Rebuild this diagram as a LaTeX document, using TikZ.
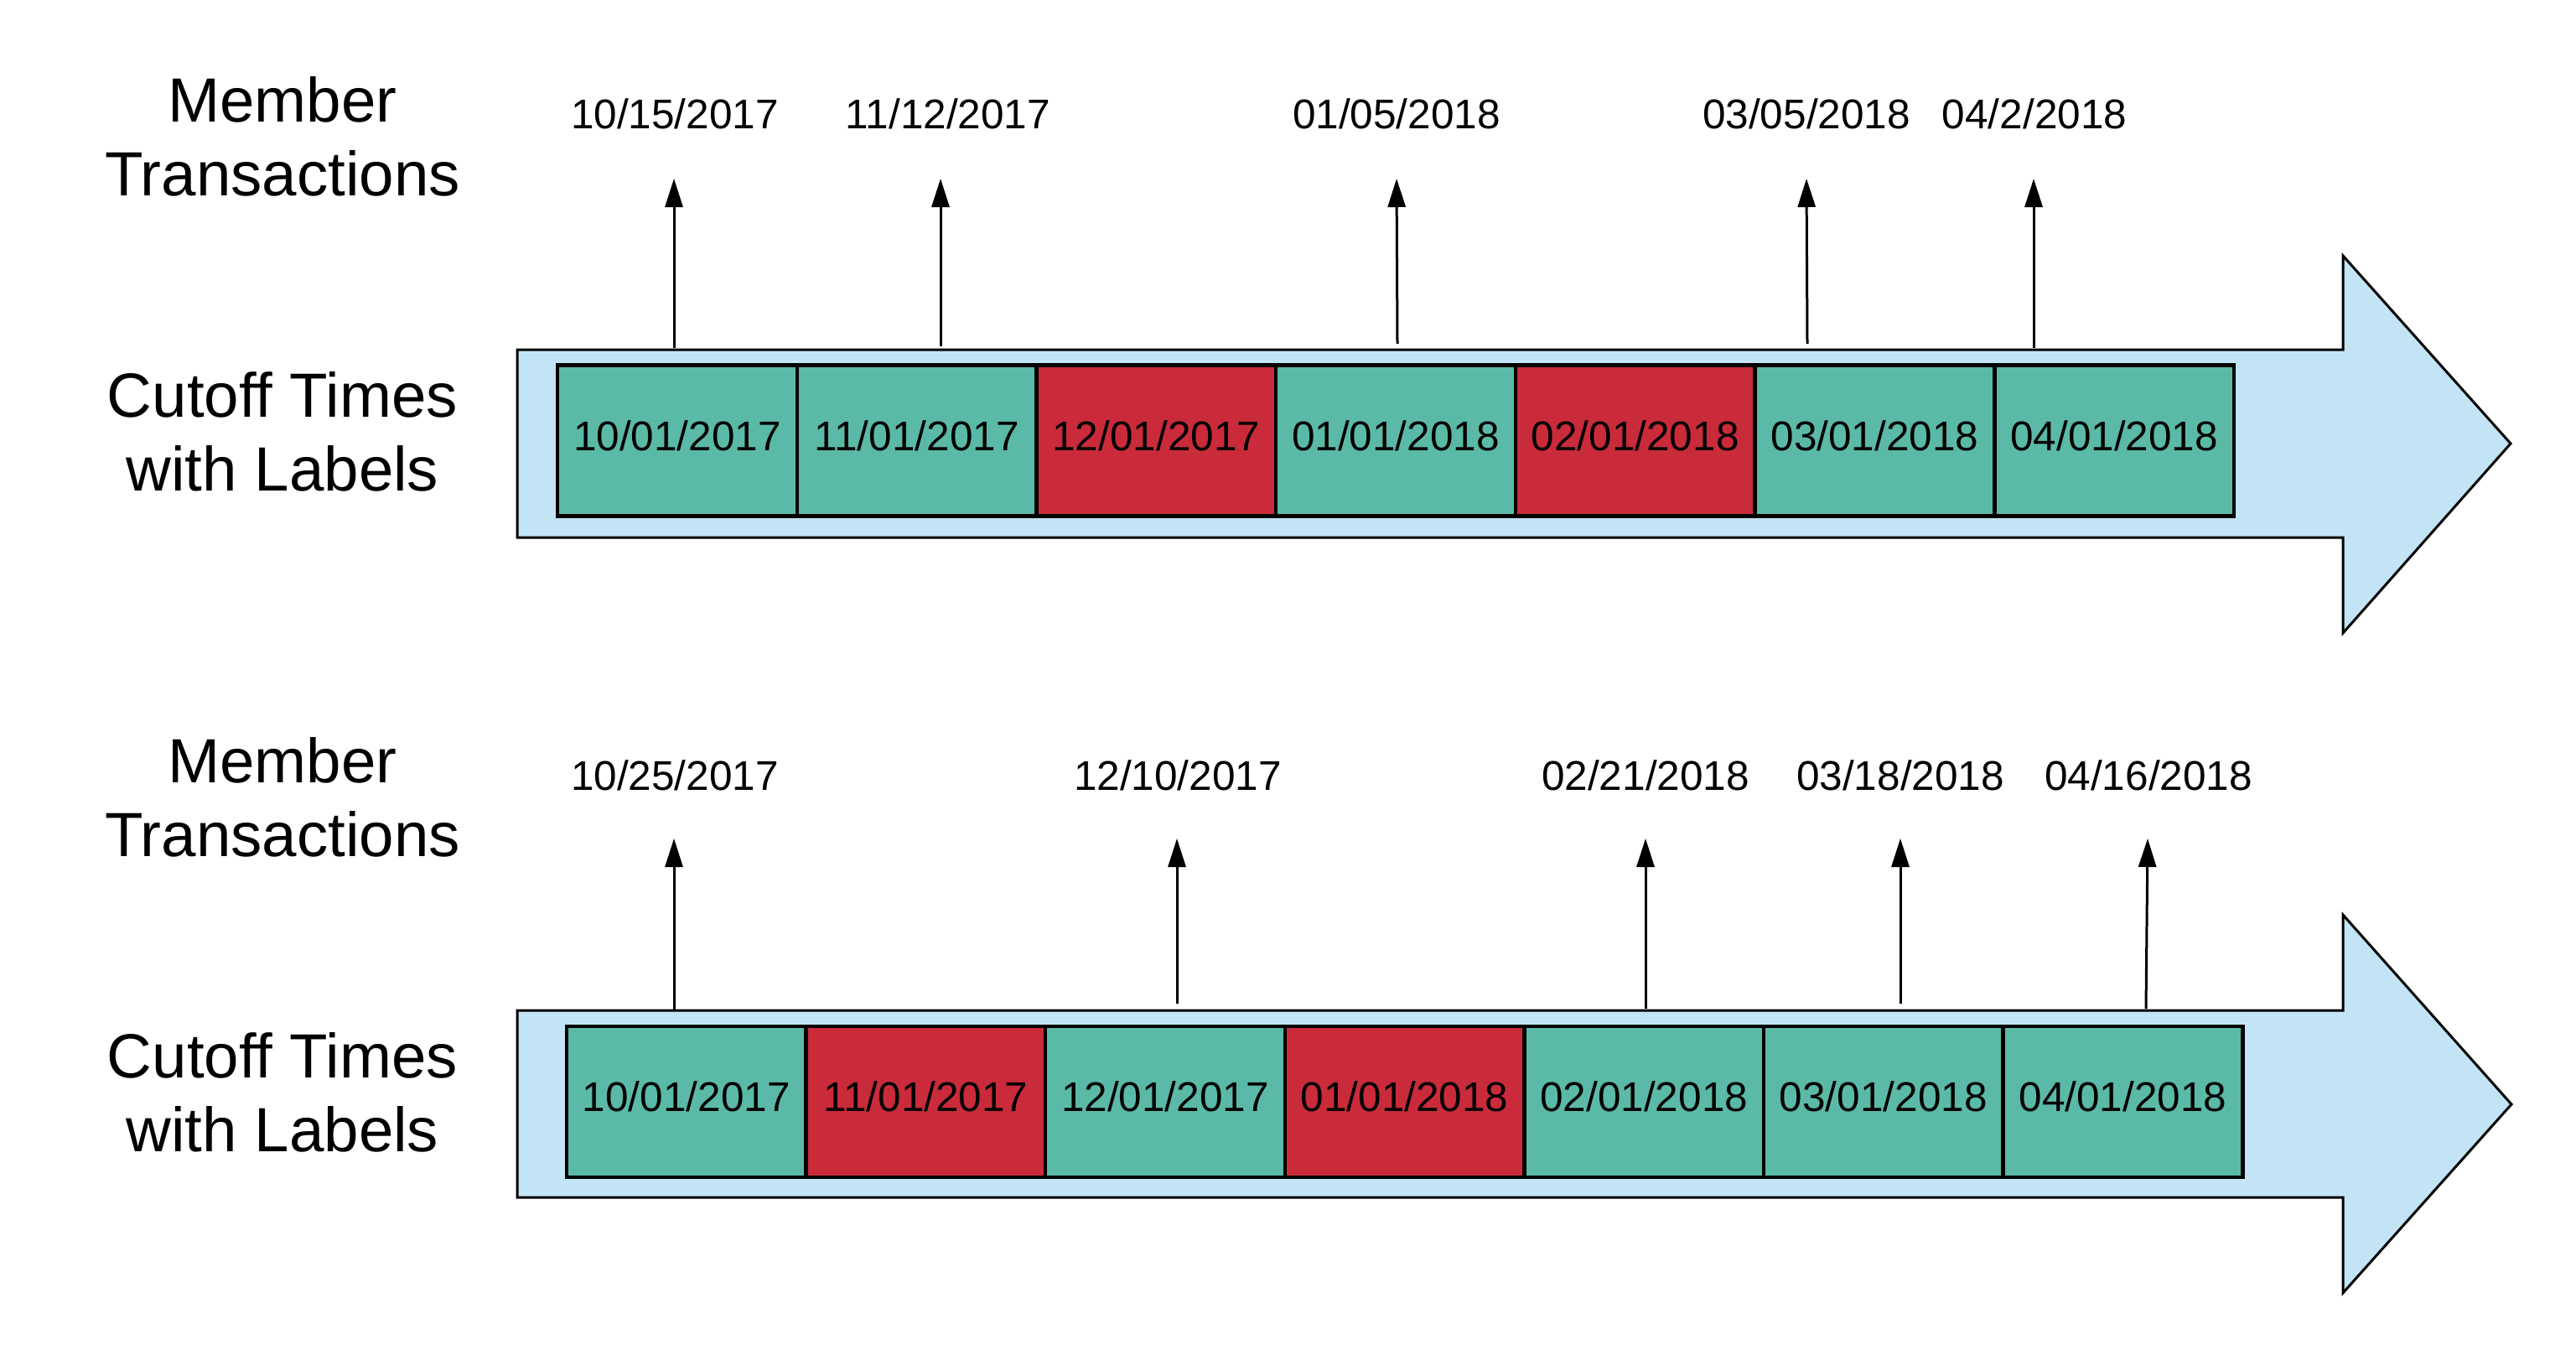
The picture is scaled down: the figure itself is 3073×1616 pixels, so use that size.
\documentclass[tikz,border=0pt]{standalone}
\usepackage{fontspec}
\setmainfont{Liberation Sans}
\usetikzlibrary{arrows.meta}
\definecolor{bodyblue}{RGB}{194,228,245}
\definecolor{cellteal}{RGB}{91,185,167}
\definecolor{cellred}{RGB}{201,43,58}
\begin{document}
\begin{tikzpicture}[x=1pt,y=-1pt,
  body/.style={fill=bodyblue, draw=black, line width=3pt, line join=miter},
  cell/.style={draw=black, line width=4.5pt, minimum width=285.7pt, minimum height=180pt, inner sep=0pt, text height=36pt, text depth=13pt, font=\fontsize{49.5}{59}\selectfont},
  ok/.style={cell, fill=cellteal},
  bad/.style={cell, fill=cellred},
  datelbl/.style={anchor=base, inner sep=0pt, font=\fontsize{49.5}{59}\selectfont},
  rowlbl/.style={align=center, inner sep=0pt, font=\fontsize{74.5}{88}\selectfont},
  txarrow/.style={draw=black, line width=3pt, -{Triangle[length=34pt,width=21pt]}}
]
\useasboundingbox (0,0) rectangle (3073,1616);
% row labels
\node[rowlbl] (mt1) at (337,163) {Member\\Transactions};
\node[rowlbl] (ct1) at (337,515) {Cutoff Times\\with Labels};
\node[rowlbl] (mt2) at (337,950.5) {Member\\Transactions};
\node[rowlbl] (ct2) at (337,1302.5) {Cutoff Times\\with Labels};
% arrow bodies
\draw[body] (617,417) -- (2795,417) -- (2795,305) -- (2995,529) -- (2795,755) -- (2795,641) -- (617,641) -- cycle;
\draw[body] (617,1205) -- (2795,1205) -- (2795,1091) -- (2996,1317) -- (2795,1542) -- (2795,1428) -- (617,1428) -- cycle;
% top cells
\node[ok]  (a1) at (807.9,525.5) {10/01/2017};
\node[ok]  (a2) at (1093.6,525.5) {11/01/2017};
\node[bad] (a3) at (1379.3,525.5) {12/01/2017};
\node[ok]  (a4) at (1665.0,525.5) {01/01/2018};
\node[bad] (a5) at (1950.7,525.5) {02/01/2018};
\node[ok]  (a6) at (2236.4,525.5) {03/01/2018};
\node[ok]  (a7) at (2522.1,525.5) {04/01/2018};
% bottom cells
\node[ok]  (b1) at (818.8,1314) {10/01/2017};
\node[bad] (b2) at (1104.4,1314) {11/01/2017};
\node[ok]  (b3) at (1390.0,1314) {12/01/2017};
\node[bad] (b4) at (1675.6,1314) {01/01/2018};
\node[ok]  (b5) at (1961.2,1314) {02/01/2018};
\node[ok]  (b6) at (2246.8,1314) {03/01/2018};
\node[ok]  (b7) at (2532.4,1314) {04/01/2018};
% top transaction labels
\node[datelbl] (ta) at (805,154) {10/15/2017};
\node[datelbl] (tb) at (1131,154) {11/12/2017};
\node[datelbl] (tc) at (1666,154) {01/05/2018};
\node[datelbl] (td) at (2155,154) {03/05/2018};
\node[datelbl] (te) at (2427,154) {04/2/2018};
% bottom transaction labels
\node[datelbl] (ba) at (805,942) {10/25/2017};
\node[datelbl] (bb) at (1405,942) {12/10/2017};
\node[datelbl] (bc) at (1963,942) {02/21/2018};
\node[datelbl] (bd) at (2267,942) {03/18/2018};
\node[datelbl] (be) at (2563,942) {04/16/2018};
% arrow end points
\coordinate (tas) at (804,415);  \coordinate (tae) at (804,213);
\coordinate (tbs) at (1122,413); \coordinate (tbe) at (1122,213);
\coordinate (tcs) at (1667,410); \coordinate (tce) at (1666,213);
\coordinate (tds) at (2156,410); \coordinate (tde) at (2155,213);
\coordinate (tes) at (2426,415); \coordinate (tee) at (2426,213);
\coordinate (bas) at (804,1204); \coordinate (bae) at (804,1000);
\coordinate (bbs) at (1404,1197); \coordinate (bbe) at (1404,1000);
\coordinate (bcs) at (1963,1203); \coordinate (bce) at (1963,1000);
\coordinate (bds) at (2267,1197); \coordinate (bde) at (2267,1000);
\coordinate (bes) at (2560,1203); \coordinate (bee) at (2562,1000);
% arrows
\foreach \p in {ta,tb,tc,td,te,ba,bb,bc,bd,be}{
  \draw[txarrow] (\p s) -- (\p e);
}
\end{tikzpicture}
\end{document}
